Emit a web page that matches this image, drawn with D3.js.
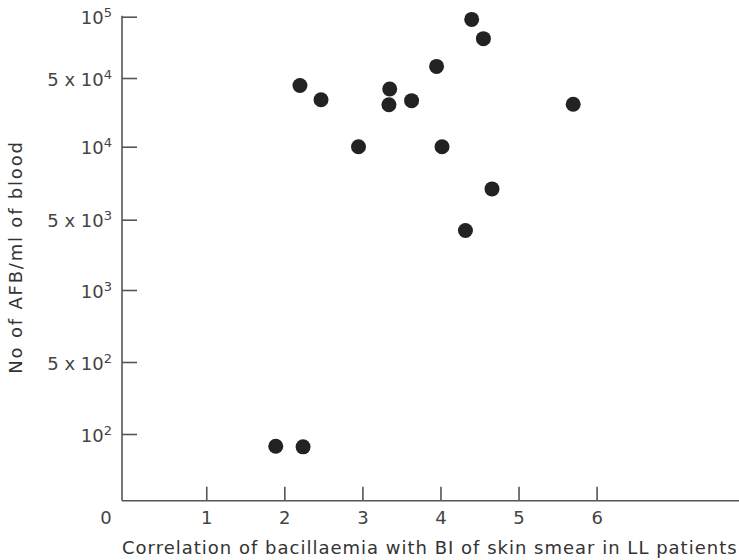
<!DOCTYPE html>
<html lang="en">
<head>
<meta charset="UTF-8">
<title>Bacillaemia vs BI</title>
<style>
body { margin: 0; background: #fff; }
.axis text { font-family: "DejaVu Sans", sans-serif; font-size: 18px; fill: #444; }
.axis line, .axis path { stroke: #555; stroke-width: 1.6; }
.lbl { font-family: "DejaVu Sans", sans-serif; font-size: 18px; fill: #333; letter-spacing: 1px; }
</style>
</head>
<body>
<script src="https://cdn.jsdelivr.net/npm/d3@7"></script>
<script>
var width = 739, height = 560
var originX = 122, baseY = 500.7

// BI of skin smear (x) and AFB per ml of blood (y)
var bi  = [4.40, 4.55, 3.95, 2.20, 2.47, 3.35, 3.34, 3.63, 2.95, 4.02, 4.66, 4.32, 5.70, 1.89, 2.24]
var afb = [97000, 78000, 57000, 42000, 30000, 38700, 26700, 29400, 10000, 10000, 6700, 3900, 27000, 76, 75]

var xTicks = [1, 2, 3, 4, 5, 6]
var yTicks = [1e2, 5e2, 1e3, 5e3, 1e4, 5e4, 1e5]
var yTickLabels = [["10", "2"], ["5 x 10", "2"], ["10", "3"], ["5 x 10", "3"], ["10", "4"], ["5 x 10", "4"], ["10", "5"]]

var svg = d3.select('body').append('svg').attr('width', width).attr('height', height)

var x = d3.scaleLinear().domain([0, 6]).range([128.2, 596.6])
// the original axis spaces its ticks evenly, so a piecewise log scale
var y = d3.scaleLog().domain(yTicks).range([434, 362, 290, 219.7, 146.7, 78, 16.7])

// axis lines
svg.append('line').attr('x1', originX).attr('x2', width).attr('y1', baseY).attr('y2', baseY)
   .attr('stroke', '#555').attr('stroke-width', 1.6)
svg.append('line').attr('x1', originX).attr('x2', originX).attr('y1', y(1e5) - 1).attr('y2', baseY)
   .attr('stroke', '#555').attr('stroke-width', 1.6)

var xAxis = d3.axisBottom(x).tickValues(xTicks).tickSize(-14).tickPadding(8).tickFormat(d3.format('d'))
var gx = svg.append('g').attr('class', 'axis').attr('transform', 'translate(0,' + baseY + ')').call(xAxis)
gx.select('.domain').remove()
gx.selectAll('text').attr('dy', '0.85em')

// corner zero
gx.append('text').attr('x', originX - 16).attr('y', 8).attr('dy', '0.85em')
  .attr('text-anchor', 'middle').text('0')

var yAxis = d3.axisLeft(y).tickValues(yTicks).tickSize(-15).tickPadding(10).tickFormat('')
var gy = svg.append('g').attr('class', 'axis').attr('transform', 'translate(' + originX + ',0)').call(yAxis)
gy.select('.domain').remove()
gy.selectAll('.tick text').each(function (d, i) {
  var t = d3.select(this).attr('dy', '0.4em')
  t.append('tspan').text(yTickLabels[i][0])
  t.append('tspan').attr('dy', '-0.55em').attr('font-size', '13px').text(yTickLabels[i][1])
})

svg.append('g').selectAll('circle')
   .data(bi.map(function (d, i) { return [d, afb[i]] }))
   .enter().append('circle')
   .attr('cx', function (d) { return x(d[0]) })
   .attr('cy', function (d) { return y(d[1]) })
   .attr('r', 7.5)
   .attr('fill', '#222')

svg.append('text').attr('class', 'lbl').attr('x', originX).attr('y', 554)
   .text('Correlation of bacillaemia with BI of skin smear in LL patients')

svg.append('text').attr('class', 'lbl')
   .attr('transform', 'translate(22,257) rotate(-90)')
   .attr('text-anchor', 'middle')
   .style('letter-spacing', '1.8px')
   .text('No of AFB/ml of blood')
</script>
</body>
</html>
